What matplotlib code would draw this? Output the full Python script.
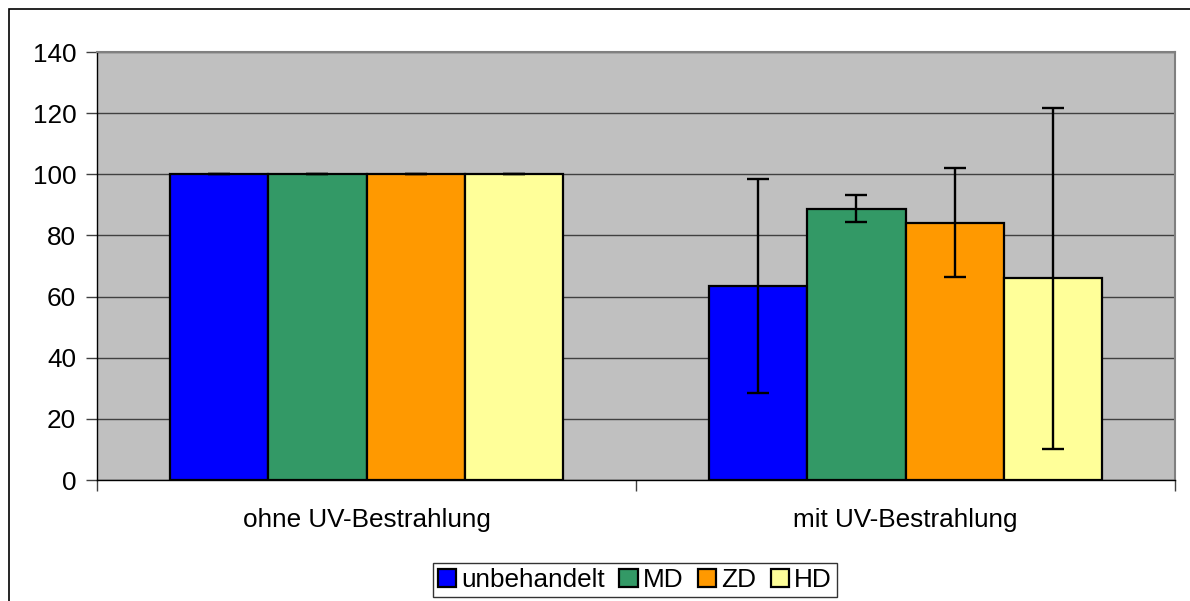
import matplotlib
matplotlib.use("Agg")
import matplotlib.pyplot as plt
import numpy as np
from matplotlib.patches import Rectangle

categories = ["ohne UV-Bestrahlung", "mit UV-Bestrahlung"]
series = ["unbehandelt", "MD", "ZD", "HD"]
values = {
    "unbehandelt": [100, 63.5],
    "MD": [100, 88.8],
    "ZD": [100, 84.1],
    "HD": [100, 66.0],
}
errors = {
    "unbehandelt": [0, 35.0],
    "MD": [0, 4.5],
    "ZD": [0, 17.8],
    "HD": [0, 55.8],
}
colors = ["#0000FF", "#339966", "#FF9900", "#FFFF99"]
yticks = [0, 20, 40, 60, 80, 100, 120, 140]

plt.rcParams["font.family"] = ["Liberation Sans", "DejaVu Sans"]
fs = 18.8

fig = plt.figure(figsize=(11.90, 6.01), dpi=100)
ax = fig.add_axes([97 / 1190, 121 / 601, 1078 / 1190, 428 / 601])
ax.set_facecolor("#C0C0C0")

x = np.arange(len(categories))
w = 0.182
n = len(series)
for i, (s, c) in enumerate(zip(series, colors)):
    xi = x + (i - (n - 1) / 2) * w
    ax.bar(xi, values[s], width=w, color=c, edgecolor="black", linewidth=1.6, zorder=3,
           label=s)
    ax.errorbar(xi, values[s], yerr=errors[s], fmt="none", ecolor="black",
                elinewidth=1.7, capsize=8, capthick=1.7, zorder=4)

ax.set_xlim(-0.5, 1.5)
ax.set_ylim(0, 140)
ax.set_yticks(yticks)
ax.yaxis.grid(True, color="#404040", linewidth=1.0, zorder=1)
ax.set_axisbelow(True)
ax.tick_params(axis="y", direction="out", length=8, width=1, labelsize=fs, pad=7,
               color="#404040")
ax.set_xticks(x)
ax.set_xticklabels(categories)
ax.tick_params(axis="x", which="major", length=0, labelsize=fs, pad=20)
ax.set_xticks([-0.5, 0.5, 1.5], minor=True)
ax.tick_params(axis="x", which="minor", direction="out", length=8, width=1, color="#404040")

for sp in ["left", "bottom"]:
    ax.spines[sp].set_color("#000000")
    ax.spines[sp].set_linewidth(1.0)
for sp in ["top", "right"]:
    ax.spines[sp].set_color("#808080")
    ax.spines[sp].set_linewidth(1.5)

leg = fig.legend(loc="center", bbox_to_anchor=(635 / 1190, 1 - 580 / 601), ncol=4,
                 fontsize=fs, frameon=True, fancybox=False, edgecolor="black",
                 handlelength=0.7, handleheight=0.7, handletextpad=0.2,
                 columnspacing=0.55, borderpad=0.2, borderaxespad=0)
leg.get_frame().set_linewidth(1.0)

fig.patches.append(Rectangle((9 / 1190, -0.1), 1.2, 1.1 - 9 / 601, transform=fig.transFigure,
                             fill=False, edgecolor="black", linewidth=1.2))

fig.savefig("out.png", dpi=100)
